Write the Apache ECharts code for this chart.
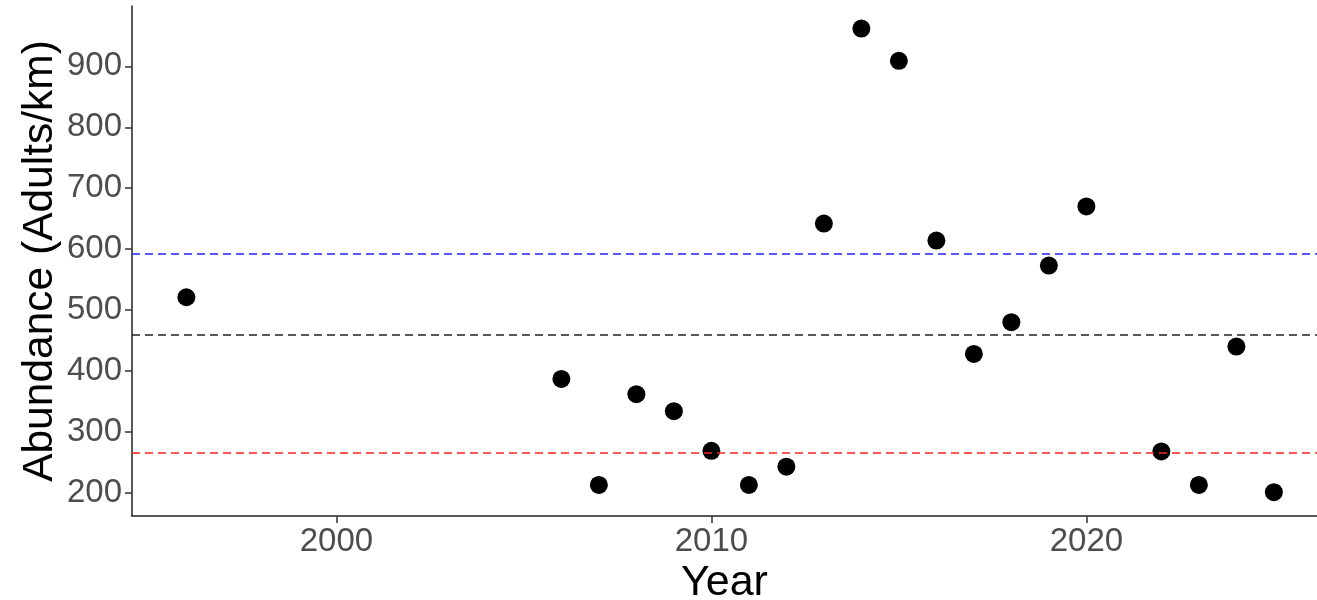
<html>
<head>
    <meta http-equiv="content-type" content="text/html; charset=utf-8">
    <title>Abundance by year</title>
    <script src="https://cdn.jsdelivr.net/npm/echarts@6/dist/echarts.min.js"></script>
    <style>
        body { margin: 0; background: #fff; }
        #chart { width: 1317px; height: 600px; }
    </style>
</head>
<body>
    <div id="chart"></div>
    <script type="text/javascript">
        // survey data
        var years = [1996, 2006, 2007, 2008, 2009, 2010, 2011, 2012, 2013, 2014, 2015, 2016, 2017, 2018, 2019, 2020, 2022, 2023, 2024, 2025];
        var abundance = [521, 387, 213, 362, 334, 269, 213, 243, 642, 962, 909, 614, 428, 480, 573, 670, 268, 213, 440, 201];

        // reference lines: upper, mean, lower
        var refValues = [593, 459, 266];
        var refColors = ['#2222ff', '#222222', '#ff2222'];

        var xTicks = [2000, 2010, 2020];
        var yTicks = [200, 300, 400, 500, 600, 700, 800, 900];

        var points = [];
        for (var i = 0; i < years.length; i++) {
            points.push([years[i], abundance[i]]);
        }

        var refLines = [];
        for (var j = 0; j < refValues.length; j++) {
            refLines.push({
                yAxis: refValues[j],
                lineStyle: { color: refColors[j], type: [8, 5], width: 1.5 }
            });
        }

        var font = 'Liberation Sans, Arial, sans-serif';
        var chart = echarts.init(document.getElementById('chart'));
        chart.setOption({
            animation: false,
            grid: { left: 132, right: 0, top: 6, bottom: 84, outerBoundsMode: 'none', containLabel: false },
            xAxis: {
                type: 'value',
                min: 1994.55,
                max: 2026.15,
                name: 'Year',
                nameLocation: 'middle',
                nameGap: 46,
                nameMoveOverlap: false,
                nameTextStyle: { fontFamily: font, fontSize: 43, color: '#000' },
                axisLine: { lineStyle: { color: '#222', width: 1.5 } },
                axisTick: { show: true, length: 7, customValues: xTicks, lineStyle: { color: '#333', width: 1.5 } },
                axisLabel: {
                    customValues: xTicks, fontFamily: font, fontSize: 33, color: '#4d4d4d', margin: 9,
                    formatter: function (v) { return String(v); }
                },
                splitLine: { show: false }
            },
            yAxis: {
                type: 'value',
                min: 162,
                max: 999,
                name: 'Abundance (Adults/km)',
                nameLocation: 'middle',
                nameGap: 70,
                nameMoveOverlap: false,
                nameTextStyle: { fontFamily: font, fontSize: 42.5, color: '#000' },
                axisLine: { show: true, lineStyle: { color: '#222', width: 1.5 } },
                axisTick: { show: true, length: 7, customValues: yTicks, lineStyle: { color: '#333', width: 1.5 } },
                axisLabel: { customValues: yTicks, fontFamily: font, fontSize: 33, color: '#4d4d4d', margin: 10 },
                splitLine: { show: false }
            },
            series: [{
                type: 'scatter',
                data: points,
                symbolSize: 18,
                itemStyle: { color: '#000', opacity: 1 },
                markLine: {
                    silent: true,
                    symbol: ['none', 'none'],
                    label: { show: false },
                    data: refLines
                },
                z: 3
            }]
        });
    </script>
</body>
</html>
